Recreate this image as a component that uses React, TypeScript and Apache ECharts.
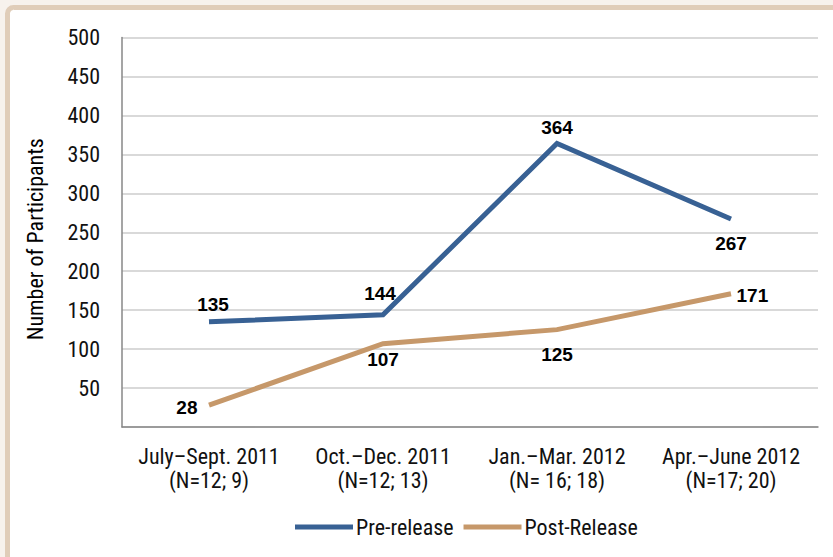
import React, { useEffect, useRef } from "react";
import * as echarts from "echarts";

const categories = [
  "July–Sept. 2011\n(N=12; 9)",
  "Oct.–Dec. 2011\n(N=12; 13)",
  "Jan.–Mar. 2012\n(N= 16; 18)",
  "Apr.–June 2012\n(N=17; 20)",
];
const preRelease = [135, 144, 364, 267];
const postRelease = [28, 107, 125, 171];
const yTicks = { min: 0, max: 500, interval: 50 };

const NARROW = "'Liberation Sans Narrow', 'Arial Narrow', 'Roboto Condensed', 'Liberation Sans', sans-serif";
const BOLD = "'Liberation Sans', Arial, sans-serif";
const BLUE = "#386194";
const TAN = "#c6986a";

export default function App() {
  const ref = useRef<HTMLDivElement>(null);
  useEffect(() => {
    document.body.style.margin = "0";
    const chart = echarts.init(ref.current!, undefined, { renderer: "svg" });
    const labelBase = {
      show: true,
      color: "#000",
      fontFamily: BOLD,
      fontWeight: "bold" as const,
      fontSize: 19,
    };
    const preLabels = [
      { position: "top", distance: 7, offset: [4, 0] },
      { position: "top", distance: 11, offset: [-3, 0] },
      { position: "top", distance: 6, offset: [0, 0] },
      { position: "bottom", distance: 14, offset: [0, 0] },
    ];
    const postLabels = [
      { position: "left", distance: 11, offset: [0, 2] },
      { position: "bottom", distance: 6, offset: [0, 0] },
      { position: "bottom", distance: 15, offset: [0, 0] },
      { position: "right", distance: 5, offset: [0, 2] },
    ];
    const hiddenSymbol = {
      symbol: "circle",
      symbolSize: 1,
      showSymbol: true,
      itemStyle: { color: "rgba(0,0,0,0)", borderWidth: 0 },
    };
    chart.setOption({
      animation: false,
      backgroundColor: "#f7f2ed",
      graphic: [
        {
          type: "rect",
          z: -10,
          silent: true,
          shape: { x: 7.5, y: 7.5, width: 900, height: 600, r: 6 },
          style: { fill: "#ffffff", stroke: "#e0cdb9", lineWidth: 5 },
        },
      ],
      grid: { left: 122, right: 15, top: 37.5, bottom: 130 },
      xAxis: {
        type: "category",
        data: categories,
        boundaryGap: true,
        axisLine: { show: true, lineStyle: { color: "#878787", width: 1.5 } },
        axisTick: { show: false },
        axisLabel: {
          interval: 0,
          color: "#111",
          fontFamily: NARROW,
          fontSize: 22,
          lineHeight: 24,
          margin: 17,
        },
      },
      yAxis: {
        type: "value",
        min: yTicks.min,
        max: yTicks.max,
        interval: yTicks.interval,
        name: "Number of Participants",
        nameLocation: "middle",
        nameGap: 76,
        nameTextStyle: { color: "#000", fontFamily: NARROW, fontSize: 22, padding: [0, 0, 0, -14] },
        axisLine: { show: true, lineStyle: { color: "#878787", width: 1.5 } },
        axisTick: { show: false },
        splitLine: { show: true, lineStyle: { color: "#d9d9d9", width: 2 } },
        axisLabel: {
          color: "#111",
          fontFamily: NARROW,
          fontSize: 22,
          margin: 22,
          formatter: (v: number) => (v === 0 ? "" : String(v)),
        },
      },
      legend: {
        bottom: 14,
        left: 290,
        itemWidth: 58,
        itemHeight: 5,
        itemGap: 10,
        icon: "rect",
        textStyle: { color: "#111", fontFamily: NARROW, fontSize: 22, padding: [0, 0, 0, -2] },
        data: [
          { name: "Pre-release", itemStyle: { color: BLUE } },
          { name: "Post-Release", itemStyle: { color: TAN } },
        ],
      },
      series: [
        {
          name: "Pre-release",
          type: "line",
          ...hiddenSymbol,
          lineStyle: { width: 5, cap: "butt", join: "miter", color: BLUE },
          data: preRelease.map((v, i) => ({
            value: v,
            label: { ...labelBase, ...preLabels[i] },
          })),
        },
        {
          name: "Post-Release",
          type: "line",
          ...hiddenSymbol,
          lineStyle: { width: 5, cap: "butt", join: "miter", color: TAN },
          data: postRelease.map((v, i) => ({
            value: v,
            label: { ...labelBase, ...postLabels[i] },
          })),
        },
      ],
    });
    return () => chart.dispose();
  }, []);
  return (
    <div
      ref={ref}
      style={{ position: "absolute", left: 0, top: 0, width: 833, height: 557 }}
    />
  );
}
